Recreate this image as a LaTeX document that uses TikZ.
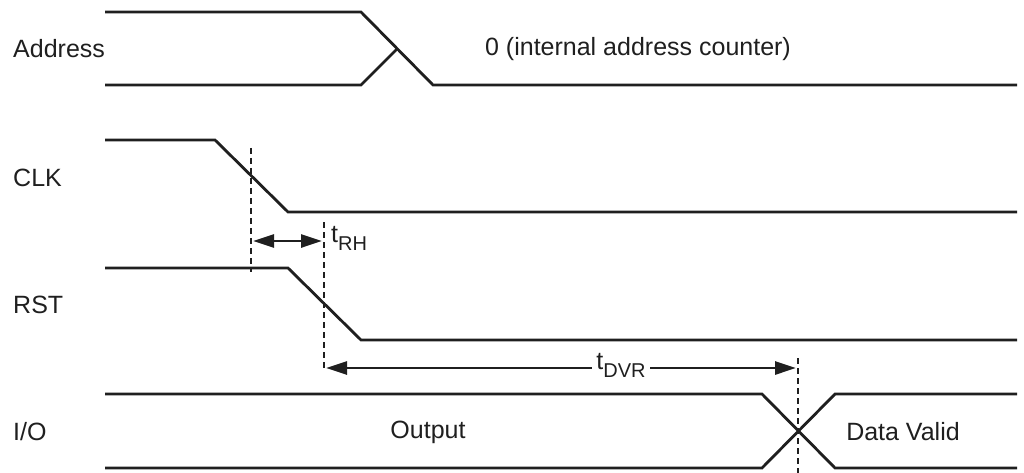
\documentclass[tikz,border=0pt]{standalone}
\usepackage{fontspec}
\setmainfont{Liberation Sans}
\usetikzlibrary{arrows.meta}
\begin{document}
\begin{tikzpicture}[x=1pt,y=-1pt,
  sig/.style={line width=2.8pt,color=black!88,line join=miter},
  guide/.style={line width=2.8pt,dash pattern=on 6pt off 4pt,color=black!88},
  dim/.style={line width=2.8pt,color=black!88,{Triangle[length=21pt,width=13pt]}-{Triangle[length=21pt,width=13pt]}},
  lbl/.style={font=\fontsize{25}{30}\selectfont,inner sep=0pt,text=black!88},
  tlbl/.style={font=\fontsize{25}{30}\selectfont,inner sep=4pt,text=black!88,fill=white}]
\useasboundingbox (0,0) rectangle (1024,473);
% labels
\node[lbl,anchor=west] (lA) at (13,49) {Address};
\node[lbl,anchor=west] (lC) at (13,178) {CLK};
\node[lbl,anchor=west] (lR) at (13,305) {RST};
\node[lbl,anchor=west] (lI) at (13,432) {I/O};
\node[lbl] (aval) at (638,49) {0 (internal address counter)};
\node[lbl] (out) at (428,432) {Output};
\node[lbl] (dv) at (903,432) {Data Valid};
% Address
\draw[sig] (105,12) -- (361,12) -- (433,85) -- (1017,85);
\draw[sig] (105,85) -- (361,85) -- (397,49);
% CLK
\draw[sig] (105,140) -- (215,140) -- (288,212) -- (1017,212);
% RST
\draw[sig] (105,268) -- (288,268) -- (361,340) -- (1017,340);
% I/O
\draw[sig] (105,394) -- (762,394) -- (835,468) -- (1017,468);
\draw[sig] (105,468) -- (762,468) -- (835,394) -- (1017,394);
% guides
\coordinate (g1t) at (251,148); \coordinate (g1b) at (251,272);
\coordinate (g2t) at (324,222); \coordinate (g2b) at (324,370);
\coordinate (g3t) at (798,358); \coordinate (g3b) at (798,473);
\draw[guide] (g1t) -- (g1b);
\draw[guide] (g2t) -- (g2b);
\draw[guide] (g3t) -- (g3b);
% tRH
\coordinate (rh1) at (253,241); \coordinate (rh2) at (322,241);
\draw[dim] (rh1) -- (rh2);
\node[lbl,anchor=west] (trh) at (331,238) {t\raisebox{-8pt}{\fontsize{20}{22}\selectfont RH}};
% tDVR
\coordinate (dv1) at (326,368); \coordinate (dv2) at (796,368);
\draw[dim] (dv1) -- (dv2);
\node[tlbl] (tdvr) at (621,365) {t\raisebox{-8pt}{\fontsize{20}{22}\selectfont DVR}};
\end{tikzpicture}
\end{document}
